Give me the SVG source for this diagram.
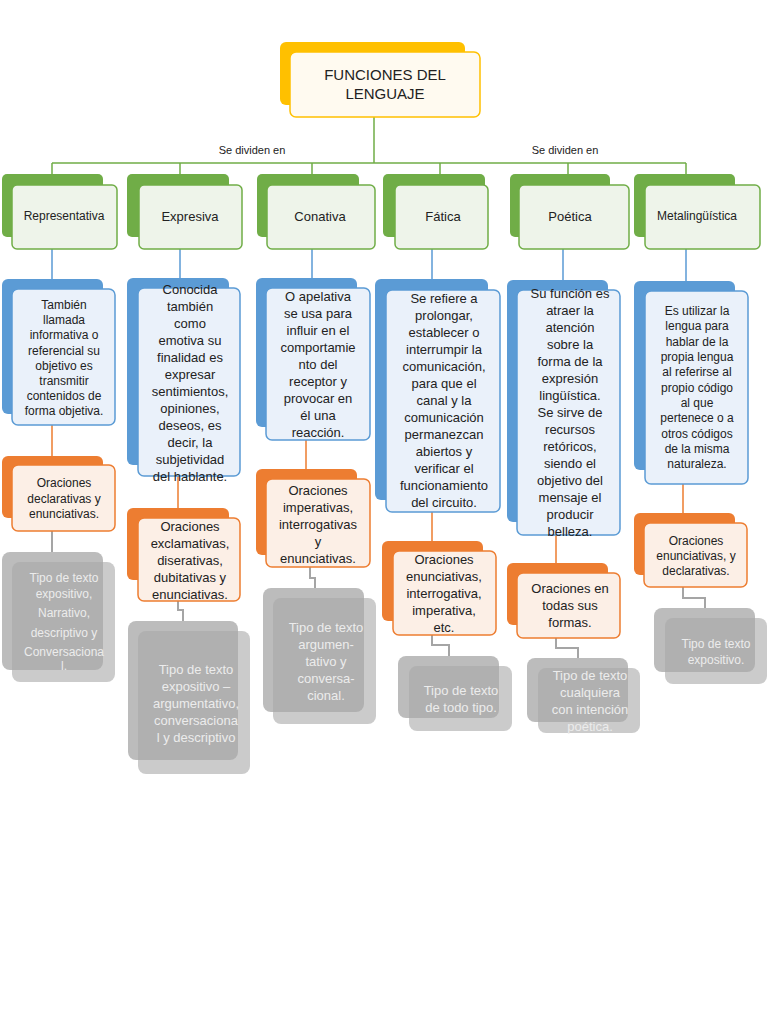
<svg xmlns="http://www.w3.org/2000/svg" width="768" height="1024" viewBox="0 0 768 1024">
<style>
text{font-family:"Liberation Sans",Arial,sans-serif;text-anchor:middle;fill:#222}
.t{font-size:13px}.s{font-size:12px}.xs{font-size:11px}
.yb{fill:#ffc000}.yf{fill:#fffaf0;stroke:#ffc000;stroke-width:1.5}
.gb{fill:#70ad47}.gf{fill:#eef4ea;stroke:#70ad47;stroke-width:1.5}
.bb{fill:#5b9bd5}.bf{fill:#eaf1fa;stroke:#5b9bd5;stroke-width:1.5}
.ob{fill:#ed7d31}.of{fill:#fcefe6;stroke:#ed7d31;stroke-width:1.5}
.kb{fill:#8f8f8f;opacity:.6}.kf{fill:#a8a8a8;opacity:.6}
.k text{fill:#ececec}
.cg{stroke:#70ad47;stroke-width:1.5;fill:none}.cb{stroke:#5b9bd5;stroke-width:1.5;fill:none}
.co{stroke:#ed7d31;stroke-width:1.5;fill:none}.ck{stroke:#a5a5a5;stroke-width:2;fill:none}
</style>
<rect width="768" height="1024" fill="#fff"/>
<g id="connectors">
<path class="cg" d="M374 117V163M52 163H686M52 163V175M180 163V175M312 163V175M440 163V175M568 163V175M686 163V175"/>
<path class="cb" d="M52 249V280M180 249V279M312 249V279M432 249V280M563 249V281M686 249V282"/>
<path class="co" d="M52 425V456M178 476V508M306 440V469M432 512V541M556 535V563M683 484V513"/>
<path class="ck" d="M52 531V552M178 601V610H183V621M310 567V578H315V588M432 635V645H449V656M556 638V648H578V658M683 587V598H705V608"/>
<text class="xs" x="252" y="154">Se dividen en</text>
<text class="xs" x="565" y="154">Se dividen en</text>
</g>
<g id="root"><rect class="yb" x="280" y="42" width="185" height="63" rx="6"/><rect class="yf" x="290" y="52" width="190" height="65" rx="6"/>
<text x="385" y="80" style="font-size:15px">FUNCIONES DEL</text><text x="385" y="99" style="font-size:15px">LENGUAJE</text></g>
<g id="representativa"><rect class="gb" x="2" y="174" width="101" height="63" rx="5"/><rect class="gf" x="12" y="185" width="105" height="64" rx="5"/><text class="s" x="64" y="220">Representativa</text></g>
<g id="expresiva"><rect class="gb" x="127" y="174" width="102" height="63" rx="5"/><rect class="gf" x="139" y="185" width="103" height="64" rx="5"/><text class="t" x="190" y="221">Expresiva</text></g>
<g id="conativa"><rect class="gb" x="257" y="174" width="102" height="63" rx="5"/><rect class="gf" x="267" y="185" width="108" height="64" rx="5"/><text class="t" x="320" y="221">Conativa</text></g>
<g id="fatica"><rect class="gb" x="383" y="174" width="102" height="63" rx="5"/><rect class="gf" x="395" y="185" width="93" height="64" rx="5"/><text class="t" x="443" y="221">Fática</text></g>
<g id="poetica"><rect class="gb" x="510" y="174" width="100" height="63" rx="5"/><rect class="gf" x="519" y="185" width="110" height="64" rx="5"/><text class="t" x="570" y="221">Poética</text></g>
<g id="metalinguistica"><rect class="gb" x="634" y="174" width="101" height="63" rx="5"/><rect class="gf" x="645" y="185" width="115" height="64" rx="5"/><text class="s" x="697" y="220">Metalingüística</text></g>

<g id="d1"><rect class="bb" x="2" y="279" width="101" height="135" rx="6"/><rect class="bf" x="12" y="289" width="103" height="136" rx="6"/>
<text class="s"><tspan x="64" y="309">También</tspan><tspan x="64" y="324">llamada</tspan><tspan x="64" y="339">informativa o</tspan><tspan x="64" y="355">referencial su</tspan><tspan x="64" y="370">objetivo es</tspan><tspan x="64" y="385">transmitir</tspan><tspan x="64" y="400">contenidos de</tspan><tspan x="64" y="415">forma objetiva.</tspan></text></g>
<g id="d2"><rect class="bb" x="127" y="278" width="102" height="187" rx="6"/><rect class="bf" x="138" y="288" width="102" height="188" rx="6"/>
<text class="t"><tspan x="190" y="294">Conocida</tspan><tspan x="190" y="311">también</tspan><tspan x="190" y="328">como</tspan><tspan x="190" y="345">emotiva su</tspan><tspan x="190" y="362">finalidad es</tspan><tspan x="190" y="379">expresar</tspan><tspan x="190" y="396">sentimientos,</tspan><tspan x="190" y="413">opiniones,</tspan><tspan x="190" y="430">deseos, es</tspan><tspan x="190" y="447">decir, la</tspan><tspan x="190" y="464">subjetividad</tspan><tspan x="190" y="481">del hablante.</tspan></text></g>
<g id="d3"><rect class="bb" x="256" y="278" width="101" height="149" rx="6"/><rect class="bf" x="266" y="288" width="104" height="152" rx="6"/>
<text class="t"><tspan x="318" y="301">O apelativa</tspan><tspan x="318" y="318">se usa para</tspan><tspan x="318" y="335">influir en el</tspan><tspan x="318" y="352">comportamie</tspan><tspan x="318" y="369">nto del</tspan><tspan x="318" y="386">receptor y</tspan><tspan x="318" y="403">provocar en</tspan><tspan x="318" y="420">él una</tspan><tspan x="318" y="437">reacción.</tspan></text></g>
<g id="d4"><rect class="bb" x="375" y="279" width="113" height="221" rx="6"/><rect class="bf" x="386" y="290" width="114" height="222" rx="6"/>
<text class="t"><tspan x="444" y="303">Se refiere a</tspan><tspan x="444" y="320">prolongar,</tspan><tspan x="444" y="337">establecer o</tspan><tspan x="444" y="354">interrumpir la</tspan><tspan x="444" y="371">comunicación,</tspan><tspan x="444" y="388">para que el</tspan><tspan x="444" y="405">canal y la</tspan><tspan x="444" y="422">comunicación</tspan><tspan x="444" y="439">permanezcan</tspan><tspan x="444" y="456">abiertos y</tspan><tspan x="444" y="473">verificar el</tspan><tspan x="444" y="490">funcionamiento</tspan><tspan x="444" y="507">del circuito.</tspan></text></g>
<g id="d5"><rect class="bb" x="507" y="280" width="101" height="242" rx="6"/><rect class="bf" x="517" y="290" width="103" height="245" rx="6"/>
<text class="t"><tspan x="570" y="298">Su función es</tspan><tspan x="570" y="315">atraer la</tspan><tspan x="570" y="332">atención</tspan><tspan x="570" y="349">sobre la</tspan><tspan x="570" y="366">forma de la</tspan><tspan x="570" y="383">expresión</tspan><tspan x="570" y="400">lingüística.</tspan><tspan x="570" y="417">Se sirve de</tspan><tspan x="570" y="434">recursos</tspan><tspan x="570" y="451">retóricos,</tspan><tspan x="570" y="468">siendo el</tspan><tspan x="570" y="485">objetivo del</tspan><tspan x="570" y="502">mensaje el</tspan><tspan x="570" y="519">producir</tspan><tspan x="570" y="536">belleza.</tspan></text></g>
<g id="d6"><rect class="bb" x="634" y="281" width="101" height="189" rx="6"/><rect class="bf" x="645" y="291" width="103" height="193" rx="6"/>
<text class="s"><tspan x="697" y="315">Es utilizar la</tspan><tspan x="697" y="330">lengua para</tspan><tspan x="697" y="346">hablar de la</tspan><tspan x="697" y="361">propia lengua</tspan><tspan x="697" y="376">al referirse al</tspan><tspan x="697" y="392">propio código</tspan><tspan x="697" y="407">al que</tspan><tspan x="697" y="422">pertenece o a</tspan><tspan x="697" y="438">otros códigos</tspan><tspan x="697" y="453">de la misma</tspan><tspan x="697" y="468">naturaleza.</tspan></text></g>

<g id="o1"><rect class="ob" x="2" y="456" width="101" height="62" rx="6"/><rect class="of" x="12" y="465" width="103" height="66" rx="6"/>
<text class="s"><tspan x="64" y="487">Oraciones</tspan><tspan x="64" y="503">declarativas y</tspan><tspan x="64" y="518">enunciativas.</tspan></text></g>
<g id="o2"><rect class="ob" x="127" y="508" width="102" height="72" rx="6"/><rect class="of" x="138" y="518" width="102" height="83" rx="6"/>
<text class="t"><tspan x="190" y="531">Oraciones</tspan><tspan x="190" y="548">exclamativas,</tspan><tspan x="190" y="565">diserativas,</tspan><tspan x="190" y="582">dubitativas y</tspan><tspan x="190" y="599">enunciativas.</tspan></text></g>
<g id="o3"><rect class="ob" x="256" y="469" width="101" height="86" rx="6"/><rect class="of" x="266" y="479" width="104" height="88" rx="6"/>
<text class="t"><tspan x="318" y="495">Oraciones</tspan><tspan x="318" y="512">imperativas,</tspan><tspan x="318" y="529">interrogativas</tspan><tspan x="318" y="546">y</tspan><tspan x="318" y="563">enunciativas.</tspan></text></g>
<g id="o4"><rect class="ob" x="382" y="541" width="101" height="80" rx="6"/><rect class="of" x="393" y="551" width="103" height="84" rx="6"/>
<text class="t"><tspan x="444" y="564">Oraciones</tspan><tspan x="444" y="581">enunciativas,</tspan><tspan x="444" y="598">interrogativa,</tspan><tspan x="444" y="615">imperativa,</tspan><tspan x="444" y="632">etc.</tspan></text></g>
<g id="o5"><rect class="ob" x="507" y="563" width="101" height="62" rx="6"/><rect class="of" x="517" y="573" width="103" height="65" rx="6"/>
<text class="t"><tspan x="570" y="593">Oraciones en</tspan><tspan x="570" y="610">todas sus</tspan><tspan x="570" y="627">formas.</tspan></text></g>
<g id="o6"><rect class="ob" x="634" y="513" width="101" height="62" rx="6"/><rect class="of" x="644" y="523" width="103" height="64" rx="6"/>
<text class="s"><tspan x="696" y="545">Oraciones</tspan><tspan x="696" y="560">enunciativas, y</tspan><tspan x="696" y="575">declarativas.</tspan></text></g>

<g id="k1" class="k"><rect class="kb" x="2" y="552" width="101" height="118" rx="8"/><rect class="kf" x="12" y="562" width="103" height="120" rx="8"/>
<text class="s"><tspan x="64" y="582">Tipo de texto</tspan><tspan x="64" y="598">expositivo,</tspan><tspan x="64" y="617">Narrativo,</tspan><tspan x="64" y="637">descriptivo y</tspan><tspan x="64" y="656">Conversaciona</tspan><tspan x="64" y="670">l.</tspan></text></g>
<g id="k2" class="k"><rect class="kb" x="128" y="621" width="110" height="139" rx="8"/><rect class="kf" x="138" y="631" width="112" height="143" rx="8"/>
<text class="t"><tspan x="196" y="674">Tipo de texto</tspan><tspan x="196" y="691">expositivo –</tspan><tspan x="196" y="708">argumentativo,</tspan><tspan x="196" y="725">conversaciona</tspan><tspan x="196" y="742">l y descriptivo</tspan></text></g>
<g id="k3" class="k"><rect class="kb" x="263" y="588" width="101" height="124" rx="8"/><rect class="kf" x="273" y="598" width="103" height="126" rx="8"/>
<text class="t"><tspan x="326" y="632">Tipo de texto</tspan><tspan x="326" y="649">argumen-</tspan><tspan x="326" y="666">tativo y</tspan><tspan x="326" y="683">conversa-</tspan><tspan x="326" y="700">cional.</tspan></text></g>
<g id="k4" class="k"><rect class="kb" x="398" y="656" width="101" height="62" rx="8"/><rect class="kf" x="409" y="666" width="103" height="65" rx="8"/>
<text class="t"><tspan x="461" y="695">Tipo de texto</tspan><tspan x="461" y="712">de todo tipo.</tspan></text></g>
<g id="k5" class="k"><rect class="kb" x="527" y="658" width="101" height="64" rx="8"/><rect class="kf" x="538" y="668" width="102" height="65" rx="8"/>
<text class="t"><tspan x="590" y="680">Tipo de texto</tspan><tspan x="590" y="697">cualquiera</tspan><tspan x="590" y="714">con intención</tspan><tspan x="590" y="731">poética.</tspan></text></g>
<g id="k6" class="k"><rect class="kb" x="654" y="608" width="101" height="64" rx="8"/><rect class="kf" x="665" y="618" width="102" height="66" rx="8"/>
<text class="s"><tspan x="716" y="648">Tipo de texto</tspan><tspan x="716" y="664">expositivo.</tspan></text></g>
</svg>
